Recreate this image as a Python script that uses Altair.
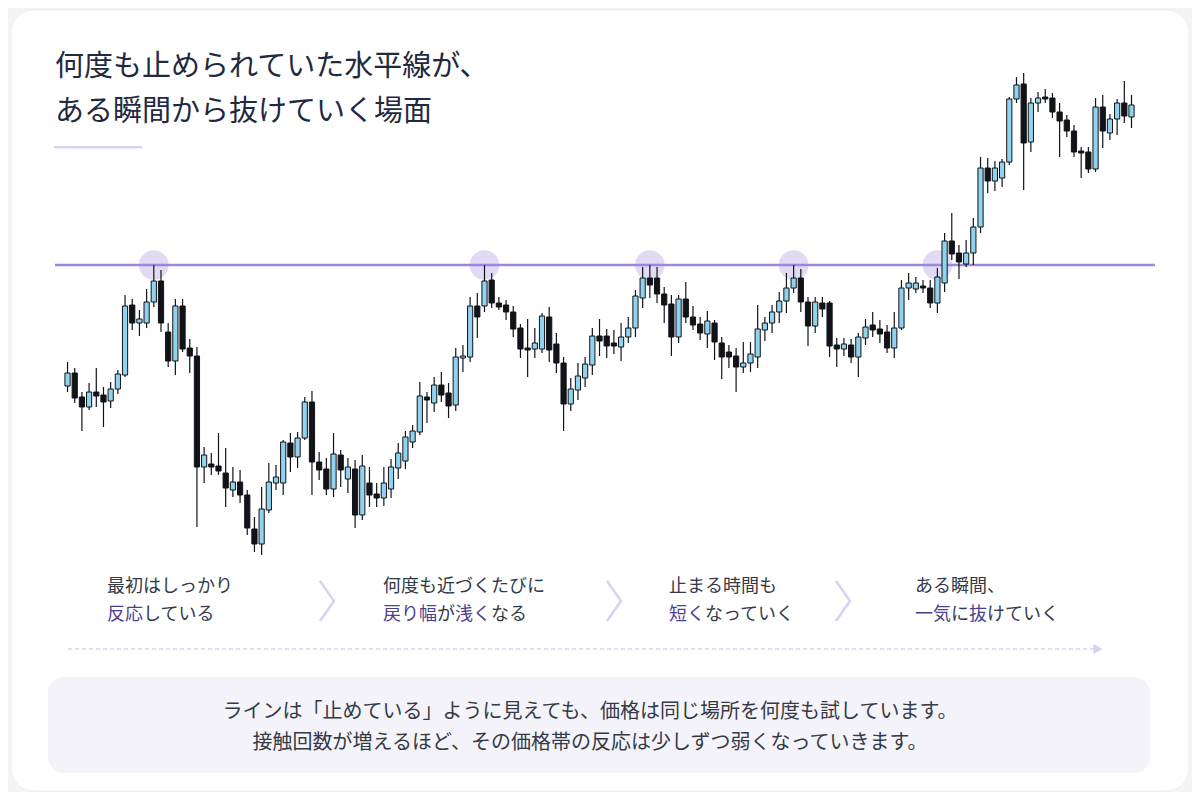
import altair as alt
import pandas as pd

# ---------------- data ----------------
open_ = [214,227,203,193,208,205,199,211,225,295,277,277,298,319,268,239,294,252,244,133,
         136,134,127,110,118,105,71,56,90,117,117,157,143,162,198,138,131,111,145,121,
         131,85,117,106,102,111,132,139,158,168,203,197,215,207,195,242,243,294,294,320,
         297,295,288,272,252,251,251,283,256,237,196,210,222,235,264,264,257,253,263,272,
         302,322,322,306,296,263,301,283,276,266,277,257,248,244,233,237,243,270,277,288,
         299,312,322,298,274,297,297,255,251,255,243,262,275,271,268,252,272,312,311,314,
         312,297,317,359,347,336,347,373,432,419,422,438,501,516,458,497,503,502,488,480,
         469,449,448,431,493,467,481,497,483]
high = [238,232,208,217,232,213,218,230,305,301,290,311,335,330,277,301,301,261,253,153,
        147,167,152,133,130,110,83,113,137,135,160,167,168,203,209,148,142,167,150,142,
        140,145,133,117,133,141,157,169,175,218,208,223,228,217,252,255,303,307,335,327,
        303,300,294,276,281,272,287,293,267,243,222,237,243,272,281,271,270,277,283,310,
        333,335,333,313,305,305,318,294,283,289,280,263,255,252,258,258,295,283,295,308,
        327,335,331,303,303,303,299,262,262,261,267,281,288,280,275,288,320,327,323,320,
        320,332,367,387,355,360,382,443,442,439,441,503,523,527,502,508,511,507,497,485,
        475,453,453,502,505,486,501,519,505]
low = [208,197,169,190,193,173,192,206,223,270,264,272,293,268,233,225,248,227,73,117,
       125,125,93,103,97,65,48,45,87,110,105,128,132,160,105,120,105,103,113,107,
       72,80,93,93,94,102,121,131,152,165,177,188,198,182,189,228,238,262,288,292,
       290,280,263,242,223,242,247,238,227,169,189,200,213,225,244,242,246,239,257,263,
       292,302,297,277,244,257,277,270,260,252,240,221,232,208,227,228,232,259,267,277,
       287,307,288,254,267,283,243,233,244,237,223,255,263,257,247,242,270,300,307,307,
       292,287,308,340,321,333,335,367,407,409,413,435,497,410,448,488,497,482,443,463,
       443,422,427,428,452,460,465,477,472]
close = [227,202,193,208,204,198,211,226,294,277,281,298,319,277,239,294,251,244,133,145,
         133,129,112,118,105,72,56,91,118,123,158,143,162,198,138,130,111,146,130,133,
         85,134,105,102,117,133,147,163,169,204,200,215,205,194,243,244,294,283,319,297,
         293,288,271,251,250,257,284,250,237,196,211,224,236,264,259,254,254,263,272,304,
         322,315,306,295,263,301,283,275,267,279,258,243,243,233,237,246,271,277,288,299,
         312,322,298,274,298,291,254,251,256,243,263,273,270,266,252,272,312,317,317,312,
         297,323,359,346,338,347,373,432,419,432,438,501,515,457,497,502,501,488,479,469,
         448,447,431,493,469,481,497,484,495]

resistance_level = [335]
touch_index = [13, 59, 82, 102, 122]

title_lines = ["何度も止められていた水平線が、", "ある瞬間から抜けていく場面"]
step_line1 = ["最初はしっかり", "何度も近づくたびに", "止まる時間も", "ある瞬間、"]
step_line2 = [
    [("反応", True), ("している", False)],
    [("戻り幅", True), ("が", False), ("浅く", True), ("なる", False)],
    [("短く", True), ("なっていく", False)],
    [("一気", True), ("に", False), ("抜", True), ("けていく", False)],
]
note_lines = [
    "ラインは「止めている」ように見えても、価格は同じ場所を何度も試しています。",
    "接触回数が増えるほど、その価格帯の反応は少しずつ弱くなっていきます。",
]

# ---------------- styling / layout ----------------
FONT = "Noto Sans CJK JP"
W, H = 1184, 784
OX, OY = 8, 8  # page offset of chart origin
DARK = "#343a46"
PURPLE = "#4d418e"
TITLE_C = "#1f2940"
LAV = "#d8d2f0"

n = len(open_)
df = pd.DataFrame({"i": list(range(1, n + 1)), "open": open_, "high": high,
                   "low": low, "close": close})
df["dir"] = ["up" if c >= o else "down" for o, c in zip(df["open"], df["close"])]

xs = alt.Scale(domain=[-6.586, 156.72], nice=False, zero=False)
ys = alt.Scale(domain=[-192, 592], nice=False, zero=False)

one = alt.Data(values=[{"k": 1}])


def px(v):
    return alt.value(v - OX)


def py(v):
    return alt.value(v - OY)


def text(s, x, y, size, color, weight=400, align="left"):
    return alt.Chart(one).mark_text(
        text=s, align=align, baseline="middle", fontSize=size, font=FONT,
        color=color, fontWeight=weight
    ).encode(x=px(x), y=py(y))


layers = []

# card
layers.append(alt.Chart(one).mark_rect(cornerRadius=22, fill="#ffffff",
                                       stroke="#eceef4", strokeWidth=1).encode(
    x=px(11), x2=px(1189), y=py(10), y2=py(791)))

# title
layers.append(text(title_lines[0], 55, 67, 29, TITLE_C, 400))
layers.append(text(title_lines[1], 55, 112, 29, TITLE_C, 400))
layers.append(alt.Chart(one).mark_rect(fill="#d9d3f2").encode(
    x=px(54), x2=px(142), y=py(146), y2=py(148.5)))

# touch circles
touch_df = pd.DataFrame({"i": touch_index, "p": resistance_level * len(touch_index)})
layers.append(alt.Chart(touch_df).mark_point(filled=True, size=880, color="#dcd4f3",
                                             opacity=0.85, shape="circle").encode(
    x=alt.X("i:Q", scale=xs, axis=None), y=alt.Y("p:Q", scale=ys, axis=None)))

# resistance line
layers.append(alt.Chart(pd.DataFrame({"p": resistance_level})).mark_rule(
    color="#9d86de", strokeWidth=2.5).encode(
    y=alt.Y("p:Q", scale=ys, axis=None), x=px(55), x2=px(1155)))

# wicks
base = alt.Chart(df)
layers.append(base.mark_rule(color="#111318", strokeWidth=1.2).encode(
    x=alt.X("i:Q", scale=xs, axis=None),
    y=alt.Y("low:Q", scale=ys, axis=None), y2="high:Q"))
# bodies
layers.append(base.mark_bar(width=5.2, stroke="#111318", strokeWidth=1).encode(
    x=alt.X("i:Q", scale=xs, axis=None),
    y=alt.Y("open:Q", scale=ys, axis=None), y2="close:Q",
    color=alt.Color("dir:N", scale=alt.Scale(domain=["up", "down"],
                                             range=["#8fd3ee", "#111318"]),
                    legend=None)))

# steps
step_x = [107, 383, 669, 915]
FS = 18
for sx, l1, segs in zip(step_x, step_line1, step_line2):
    layers.append(text(l1, sx, 587, FS, DARK))
    cx = sx
    for s, hl in segs:
        layers.append(text(s, cx, 615, FS, PURPLE if hl else DARK))
        cx += FS * len(s)

# chevrons
chev = "M -0.35 -1 L 0.35 0 L -0.35 1"
for cxp in [327, 614, 843]:
    layers.append(alt.Chart(one).mark_point(shape=chev, size=1600, filled=False,
                                            stroke=LAV, strokeWidth=2.5, opacity=1).encode(
        x=px(cxp), y=py(601)))

# dashed arrow
layers.append(alt.Chart(one).mark_rule(color=LAV, strokeWidth=1.5, strokeDash=[4, 3]).encode(
    x=px(68), x2=px(1096), y=py(649)))
layers.append(alt.Chart(one).mark_point(shape="triangle-right", size=110, filled=True,
                                        color=LAV, opacity=1).encode(
    x=px(1098), y=py(649)))

# note box
layers.append(alt.Chart(one).mark_rect(cornerRadius=16, fill="#f4f3f9").encode(
    x=px(48), x2=px(1150), y=py(677), y2=py(773)))
layers.append(text(note_lines[0], 590, 712, 20, DARK, 400, "center"))
layers.append(text(note_lines[1], 590, 743, 20, DARK, 400, "center"))

chart = alt.layer(*layers).properties(
    width=W, height=H, padding=0, background="#f3f4f8",
    autosize=alt.AutoSizeParams(type="none"),
).configure_view(strokeWidth=0)

chart.save("out.html", embed_options={"renderer": "svg", "actions": False})
